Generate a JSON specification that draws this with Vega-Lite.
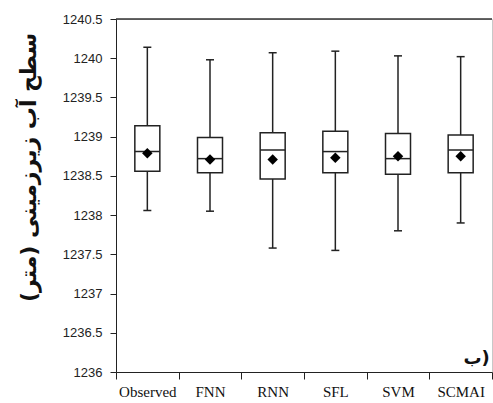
{
  "$schema": "https://vega.github.io/schema/vega-lite/v6.json",
  "width": 376,
  "height": 353,
  "autosize": {"type": "none"},
  "padding": {"left": 116, "top": 19, "right": 1, "bottom": 31},
  "background": "white",
  "config": {
    "view": {"stroke": "#c8c8c8", "strokeWidth": 1},
    "axisY": {
      "labelFont": "Liberation Sans",
      "labelFontSize": 13,
      "labelColor": "#222",
      "domainColor": "#222",
      "tickColor": "#222",
      "tickSize": 6,
      "labelPadding": 8,
      "grid": false,
      "format": ".1~f",
      "labelOverlap": false
    }
  },
  "layer": [
    {
      "data": {
        "values": [
          {"model": "Observed", "min": 1238.06, "q1": 1238.56, "median": 1238.81, "q3": 1239.14, "max": 1240.14, "mean": 1238.79},
          {"model": "FNN", "min": 1238.05, "q1": 1238.54, "median": 1238.72, "q3": 1238.99, "max": 1239.98, "mean": 1238.71},
          {"model": "RNN", "min": 1237.58, "q1": 1238.46, "median": 1238.83, "q3": 1239.05, "max": 1240.07, "mean": 1238.71},
          {"model": "SFL", "min": 1237.55, "q1": 1238.54, "median": 1238.81, "q3": 1239.07, "max": 1240.09, "mean": 1238.73},
          {"model": "SVM", "min": 1237.80, "q1": 1238.52, "median": 1238.72, "q3": 1239.04, "max": 1240.03, "mean": 1238.75},
          {"model": "SCMAI", "min": 1237.90, "q1": 1238.54, "median": 1238.83, "q3": 1239.02, "max": 1240.02, "mean": 1238.75}
        ]
      },
      "encoding": {
        "x": {
          "field": "model",
          "type": "nominal",
          "sort": null,
          "scale": {"paddingInner": 0, "paddingOuter": 0},
          "axis": {
            "title": null,
            "labelAngle": 0,
            "labelFont": "Liberation Serif",
            "labelFontSize": 15,
            "labelColor": "#111",
            "domainColor": "#222",
            "tickColor": "#222",
            "tickSize": 7,
            "tickBand": "extent",
            "labelPadding": 5
          }
        }
      },
      "layer": [
        {
          "mark": {"type": "rule", "color": "#222", "strokeWidth": 1.5},
          "encoding": {
            "y": {
              "field": "min",
              "type": "quantitative",
              "scale": {"domain": [1236, 1240.5], "nice": false, "zero": false},
              "axis": {
                "title": "سطح آب زیرزمینی (متر)",
                "titleFont": "DejaVu Sans",
                "titleFontSize": 22,
                "titleFontWeight": "bold",
                "titleColor": "#111",
                "titleX": -76,
                "titleY": 148,
                "titleBaseline": "bottom",
                "values": [1236, 1236.5, 1237, 1237.5, 1238, 1238.5, 1239, 1239.5, 1240, 1240.5]
              }
            },
            "y2": {"field": "max"}
          }
        },
        {
          "mark": {"type": "bar", "fill": "white", "stroke": "#222", "strokeWidth": 1.5, "size": 25},
          "encoding": {
            "y": {"field": "q1", "type": "quantitative", "axis": {"values": [1236, 1236.5, 1237, 1237.5, 1238, 1238.5, 1239, 1239.5, 1240, 1240.5]}},
            "y2": {"field": "q3"}
          }
        },
        {
          "mark": {"type": "tick", "color": "#222", "size": 25, "thickness": 1.5, "opacity": 1},
          "encoding": {"y": {"field": "median", "type": "quantitative", "axis": {"values": [1236, 1236.5, 1237, 1237.5, 1238, 1238.5, 1239, 1239.5, 1240, 1240.5]}}}
        },
        {
          "mark": {"type": "tick", "color": "#222", "size": 8, "thickness": 1.5, "opacity": 1},
          "encoding": {"y": {"field": "min", "type": "quantitative", "axis": {"values": [1236, 1236.5, 1237, 1237.5, 1238, 1238.5, 1239, 1239.5, 1240, 1240.5]}}}
        },
        {
          "mark": {"type": "tick", "color": "#222", "size": 8, "thickness": 1.5, "opacity": 1},
          "encoding": {"y": {"field": "max", "type": "quantitative", "axis": {"values": [1236, 1236.5, 1237, 1237.5, 1238, 1238.5, 1239, 1239.5, 1240, 1240.5]}}}
        },
        {
          "mark": {"type": "point", "shape": "diamond", "filled": true, "color": "#000", "size": 110, "opacity": 1},
          "encoding": {"y": {"field": "mean", "type": "quantitative", "axis": {"values": [1236, 1236.5, 1237, 1237.5, 1238, 1238.5, 1239, 1239.5, 1240, 1240.5]}}}
        }
      ]
    },
    {
      "data": {"values": [{"label": "ب)"}]},
      "layer": [
        {
          "mark": {"type": "rule", "color": "#333", "strokeWidth": 1.5},
          "encoding": {"y": {"datum": 1240.5, "axis": {"values": [1236, 1236.5, 1237, 1237.5, 1238, 1238.5, 1239, 1239.5, 1240, 1240.5]}}}
        },
        {
          "mark": {"type": "text", "font": "DejaVu Sans", "fontSize": 18, "fontWeight": "bold", "color": "#111", "baseline": "middle", "align": "center", "dx": 16},
          "encoding": {
            "x": {"datum": "SCMAI"},
            "y": {"datum": 1236.17, "axis": {"values": [1236, 1236.5, 1237, 1237.5, 1238, 1238.5, 1239, 1239.5, 1240, 1240.5]}},
            "text": {"field": "label"}
          }
        }
      ]
    }
  ]
}
